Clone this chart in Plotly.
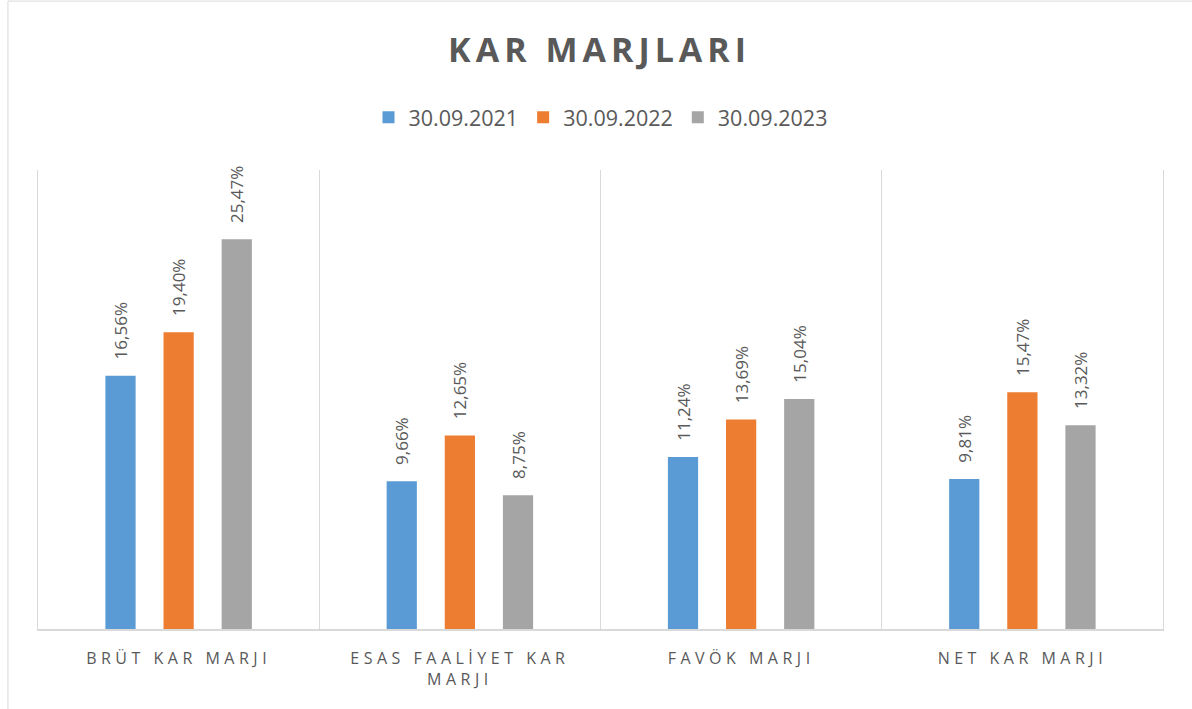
import plotly.graph_objects as go

categories = ["BRÜT KAR MARJI", "ESAS FAALİYET KAR<br>MARJI", "FAVÖK MARJI", "NET KAR MARJI"]
series_names = ["30.09.2021", "30.09.2022", "30.09.2023"]
values_2021 = [16.56, 9.66, 11.24, 9.81]
values_2022 = [19.40, 12.65, 13.69, 15.47]
values_2023 = [25.47, 8.75, 15.04, 13.32]
colors = ["#5B9BD5", "#ED7D31", "#A5A5A5"]

FONT = "Open Sans"
TXT = "#595959"

def fmt(v):
    return "\u00a0\u00a0\u00a0" + f"{v:.2f}".replace(".", ",") + "%"

fig = go.Figure()
for name, vals, col in zip(series_names, [values_2021, values_2022, values_2023], colors):
    fig.add_trace(go.Bar(
        x=categories, y=vals, name=name, marker_color=col, marker_line_width=0,
        text=[fmt(v) for v in vals], textposition="outside", textangle=-90,
        constraintext="none",
        textfont=dict(family=FONT, size=17, color=TXT), cliponaxis=False,
        hoverinfo="skip",
    ))

fig.update_layout(
    width=1192, height=709,
    paper_bgcolor="white", plot_bgcolor="white",
    margin=dict(l=38, r=29, t=170, b=80),
    barmode="group", bargap=0.38, bargroupgap=0.48,
    title=dict(text="<b>KAR MARJLARI</b>", x=0.503, xanchor="center", y=0.929, yanchor="middle",
               yref="container", font=dict(family=FONT, size=34, color=TXT)),
    legend=dict(orientation="h", x=0.5, xanchor="center", y=1.115, yanchor="middle",
                font=dict(family=FONT, size=21.5, color=TXT), itemwidth=30,
                traceorder="normal"),
    showlegend=True,
    xaxis=dict(tickson="boundaries", showgrid=True, gridcolor="#D9D9D9", gridwidth=1,
               showline=True, linecolor="#D9D9D9", linewidth=1.5, ticks="",
               ticklabelstandoff=14,
               tickfont=dict(family=FONT, size=16, color=TXT), fixedrange=True),
    yaxis=dict(range=[0, 30], showgrid=False, showticklabels=False, zeroline=False,
               showline=True, mirror=True, linecolor="#D9D9D9", linewidth=1,
               fixedrange=True),
    shapes=[dict(type="rect", xref="paper", yref="paper", x0=-0.0267, x1=1.5, y0=-1.0,
                 y1=1.368, line=dict(color="#D9D9D9", width=1), fillcolor="rgba(0,0,0,0)",
                 layer="below")],
)

post = """
var st = document.createElement('style');
st.innerHTML = 'body{margin:0 !important;} .gtitle{letter-spacing:5px;} .xtick text{letter-spacing:4.5px;}';
document.head.appendChild(st);
"""
fig.write_html("out.html", post_script=post, config={"displayModeBar": False})
